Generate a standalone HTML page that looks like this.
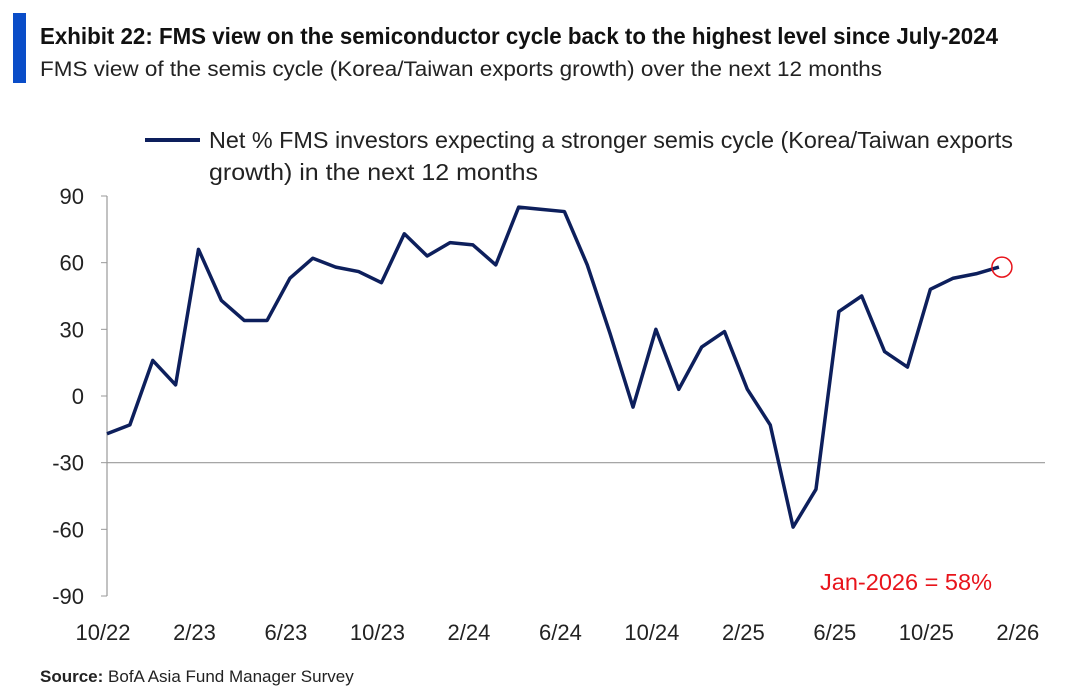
<!DOCTYPE html>
<html><head><meta charset="utf-8"><style>
body{margin:0;background:#fff;}
svg{display:block;font-family:"Liberation Sans",sans-serif;}
</style></head><body>
<svg width="1080" height="690" viewBox="0 0 1080 690">
<rect x="13" y="13" width="13" height="70" fill="#0a4dc8"/>
<text x="40" y="44" font-size="23" font-weight="bold" fill="#111" textLength="958" lengthAdjust="spacingAndGlyphs">Exhibit 22: FMS view on the semiconductor cycle back to the highest level since July-2024</text>
<text x="40" y="76" font-size="21" fill="#222" textLength="842" lengthAdjust="spacingAndGlyphs">FMS view of the semis cycle (Korea/Taiwan exports growth) over the next 12 months</text>
<line x1="145" y1="140" x2="200" y2="140" stroke="#0d1f5c" stroke-width="4"/>
<text x="209" y="148" font-size="23" fill="#222" textLength="804" lengthAdjust="spacingAndGlyphs">Net % FMS investors expecting a stronger semis cycle (Korea/Taiwan exports</text>
<text x="209" y="180" font-size="23" fill="#222" textLength="329" lengthAdjust="spacingAndGlyphs">growth)  in the next 12 months</text>
<g id="axes"></g>
<g id="series"></g>
<text x="820" y="590" font-size="23" fill="#e8141b" textLength="172" lengthAdjust="spacingAndGlyphs">Jan-2026 = 58%</text>
<text x="40" y="682" font-size="17" fill="#222"><tspan font-weight="bold">Source:</tspan> BofA Asia Fund Manager Survey</text>
</svg>
<script>
const months=["10/22","11/22","12/22","1/23","2/23","3/23","4/23","5/23","6/23","7/23","8/23","9/23","10/23","11/23","12/23","1/24","2/24","3/24","4/24","5/24","6/24","7/24","8/24","9/24","10/24","11/24","12/24","1/25","2/25","3/25","4/25","5/25","6/25","7/25","8/25","9/25","10/25","11/25","12/25","1/26"];
const values=[-17,-13,16,5,66,43,34,34,53,62,58,56,51,73,63,69,68,59,85,84,83,59,28,-5,30,3,22,29,3,-13,-59,-42,38,45,20,13,48,53,55,58];
const yTicks=[90,60,30,0,-30,-60,-90];
const xTickLabels=["10/22","2/23","6/23","10/23","2/24","6/24","10/24","2/25","6/25","10/25","2/26"];
const xTickIdx=[0,4,8,12,16,20,24,28,32,36,40];
const NS="http://www.w3.org/2000/svg";
const x0=107,step=22.87,y0=396,ppu=400/180;
const X=i=>x0+i*step, Y=v=>y0-v*ppu;
const axes=document.getElementById('axes'), series=document.getElementById('series');
function mk(t,a,p){const e=document.createElementNS(NS,t);for(const k in a)e.setAttribute(k,a[k]);p.appendChild(e);return e;}
let ya=mk('line',{x1:x0,y1:Y(90),x2:x0,y2:Y(-90),stroke:'#999','stroke-width':1.2},axes);


let xa=mk('line',{x1:x0,y1:Y(-30),x2:1045,y2:Y(-30),stroke:'#999','stroke-width':1.2},axes);


yTicks.forEach(v=>{
 let t=mk('line',{x1:x0-6,y1:Y(v),x2:x0,y2:Y(v),stroke:'#999'},axes);
 
 
 let l=mk('text',{x:84,y:Y(v)+8,'font-size':22,fill:'#222','text-anchor':'end'},axes);
 l.textContent=v;
 
 
});
xTickIdx.forEach((idx,k)=>{
 let l=mk('text',{x:X(idx)-4,y:640,'font-size':22,fill:'#222','text-anchor':'middle'},axes);
 l.textContent=xTickLabels[k];
 
 
});
let p=mk('polyline',{points:values.map((v,i)=>X(i)+','+Y(v)).join(' '),fill:'none',stroke:'#0d1f5c','stroke-width':3.5,'stroke-linejoin':'round'},series);


const li=values.length-1;
let c=mk('circle',{cx:X(li)+3,cy:Y(values[li]),r:10,fill:'none',stroke:'#e8141b','stroke-width':1.5},series);


</script>
</body></html>
